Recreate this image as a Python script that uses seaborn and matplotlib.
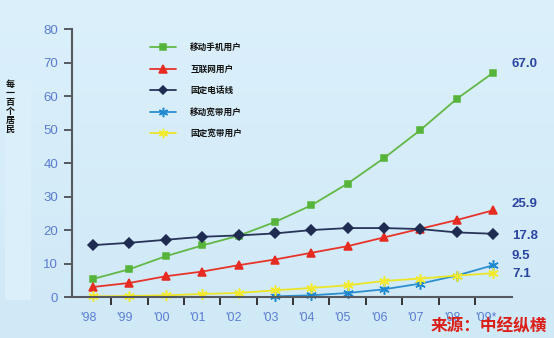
import matplotlib
matplotlib.use("Agg")
import matplotlib.pyplot as plt
import matplotlib.transforms as mtrans
from matplotlib.colors import LinearSegmentedColormap
import seaborn as sns
import numpy as np
import pandas as pd

# ---- data ----
years = ["'98", "'99", "'00", "'01", "'02", "'03", "'04", "'05", "'06", "'07", "'08", "'09*"]
mobile = [5.4, 8.3, 12.2, 15.4, 18.3, 22.4, 27.4, 33.9, 41.5, 49.9, 59.2, 67.0]
internet = [3.0, 4.2, 6.2, 7.6, 9.5, 11.2, 13.2, 15.2, 17.8, 20.4, 23.0, 25.9]
fixed_line = [15.5, 16.2, 17.1, 18.0, 18.4, 19.0, 20.0, 20.6, 20.6, 20.3, 19.3, 18.9]
mobile_bb = [np.nan] * 5 + [0.2, 0.5, 1.2, 2.3, 4.0, 6.4, 9.5]
fixed_bb = [0.2, 0.3, 0.5, 0.9, 1.2, 2.0, 2.7, 3.5, 4.8, 5.5, 6.4, 7.1]
series_names = ["移动手机用户", "互联网用户", "固定电话线", "移动宽带用户", "固定宽带用户"]
end_labels = ["67.0", "25.9", "17.8", "9.5", "7.1"]
y_label = "每一百个居民"
source = "来源：中经纵横"

# ---- style ----
sns.set_theme(style="white")
plt.rcParams['font.family'] = ['Noto Sans CJK SC', 'DejaVu Sans']

colors = ["#62b847", "#e8332a", "#27345a", "#2c8fcf", "#ece526"]
mcolors = ["#56b43a", "#e62b22", "#1f2c52", "#1e88d0", "#f2ea2a"]
asterisk = (6, 2, 0)
markers = ["s", "^", "D", asterisk, asterisk]
msizes = [4.8, 6.0, 4.6, 7.5, 7.5]
label_y = [69.7, 27.8, 18.2, 12.2, 6.8]

fig = plt.figure(figsize=(5.54, 3.38), dpi=100)
fig.patch.set_facecolor("#d4ecf9")

# background gradient
bg = fig.add_axes([0, 0, 1, 1], zorder=-10)
grad = np.linspace(0, 1, 256).reshape(-1, 1)
cmap = LinearSegmentedColormap.from_list("bg", ["#dbf0fb", "#d0e9f7"])
bg.imshow(grad, aspect="auto", cmap=cmap, extent=[0, 1, 0, 1], origin="upper")
bg.add_patch(plt.Rectangle((5 / 554, 1 - 300 / 338), 26 / 554, 218 / 338,
                           color="#dbeffa", lw=0))
bg.set_xlim(0, 1); bg.set_ylim(0, 1)
bg.axis("off")

ax = fig.add_axes([72 / 554, 1 - 297 / 338, 440 / 554, (297 - 29.3) / 338])
ax.patch.set_alpha(0)

x = np.arange(len(years))
all_series = [mobile, internet, fixed_line, mobile_bb, fixed_bb]
for vals, name, c, mc, m, ms in zip(all_series, series_names, colors, mcolors, markers, msizes):
    df = pd.DataFrame({"x": x, "y": vals}).dropna()
    sns.lineplot(data=df, x="x", y="y", ax=ax, color=c, lw=1.3, marker=m,
                 markersize=ms, markerfacecolor=mc, markeredgecolor=mc,
                 markeredgewidth=1.1, label=name, clip_on=False)

ax.set_xlim(-0.58, 11.52)
ax.set_ylim(0, 80)
ax.set_xlabel("")
ax.set_ylabel("")

for s in ["top", "right"]:
    ax.spines[s].set_visible(False)
for s in ["left", "bottom"]:
    ax.spines[s].set_color("#555a60")
    ax.spines[s].set_linewidth(1.5)

tick_color = "#5b7cd2"
ax.set_yticks(np.arange(0, 81, 10))
ax.tick_params(axis="y", direction="out", length=6, width=1.4, color="#555a60",
               labelcolor=tick_color, labelsize=9.5, pad=4, left=True)
ax.set_xticks(x)
ax.set_xticklabels(years)
ax.set_xticks(np.arange(0.5, 11.5, 1), minor=True)
ax.tick_params(axis="x", which="major", length=0, labelcolor=tick_color, labelsize=9, pad=11)
ax.tick_params(axis="x", which="minor", direction="out", length=6, width=1.4,
               color="#333", bottom=True)
for lab in ax.get_yticklabels() + ax.get_xticklabels():
    lab.set_fontfamily(["Liberation Sans", "DejaVu Sans"])
offset = mtrans.ScaledTranslation(2.5 / 72, 0, fig.dpi_scale_trans)
for lab in ax.get_xticklabels():
    lab.set_horizontalalignment("right")
    lab.set_transform(lab.get_transform() + offset)

# end labels
for txt, yy in zip(end_labels, label_y):
    ax.text(1.0, yy, txt, transform=ax.get_yaxis_transform(), ha="left", va="center",
            fontsize=9.5, fontweight="bold", color="#2a45a0",
            fontfamily=["Liberation Sans", "DejaVu Sans"], clip_on=False)

leg = ax.legend(loc="upper left", bbox_to_anchor=(0.177, 0.948), frameon=False,
                fontsize=6.2, handlelength=3.0, handletextpad=1.7, labelspacing=1.45,
                borderpad=0, borderaxespad=0, markerscale=0.9)
for t in leg.get_texts():
    t.set_fontweight("bold")
    t.set_color("#111111")

# y label (stacked characters)
fig.text(10 / 554, 1 - 107 / 338, "\n".join(y_label), ha="center", va="center",
         fontsize=6.5, fontweight="bold", color="#111111", linespacing=1.0)

fig.text(547 / 554, 1 - 326 / 338, source, ha="right", va="center", fontsize=12,
         fontweight="bold", color="#dc1e18")

fig.savefig("out.png", dpi=100, facecolor=fig.get_facecolor())
